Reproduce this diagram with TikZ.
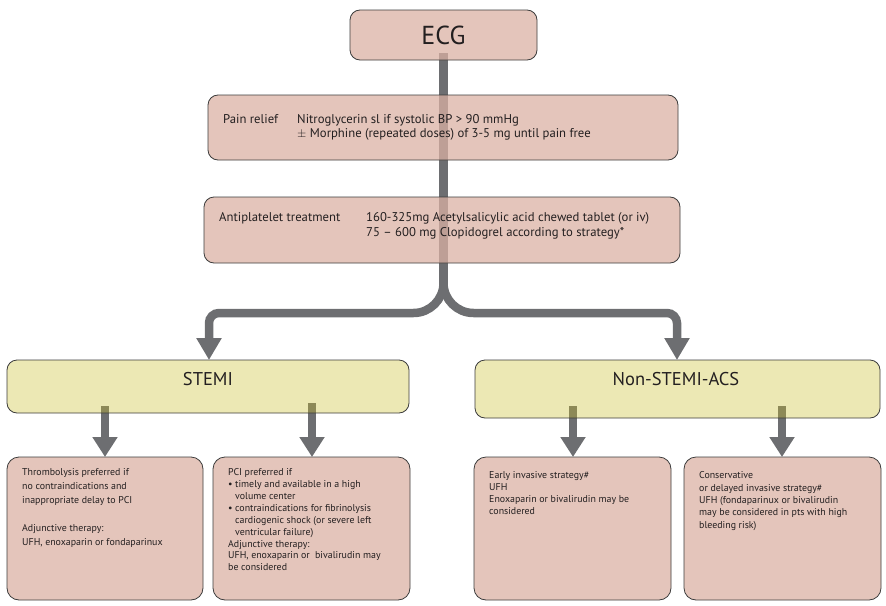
\documentclass[tikz,border=0pt]{standalone}
\usepackage{fontspec}
\setmainfont{PT Sans}
\usetikzlibrary{arrows.meta}
\pgfdeclarelayer{bg}
\pgfsetlayers{bg,main}
\definecolor{pinkfill}{RGB}{219,177,163}
\definecolor{yelfill}{RGB}{201,189,41}
\definecolor{bordc}{RGB}{60,60,60}
\definecolor{linec}{RGB}{109,110,113}
\definecolor{txtc}{RGB}{35,31,32}
\tikzset{
  pinkbox/.style={draw=bordc, line width=0.8pt, fill=pinkfill, fill opacity=0.74, text opacity=1,
    rounded corners=10pt, anchor=north west, inner sep=0pt, outer sep=0pt},
  yelbox/.style={draw=bordc, line width=0.8pt, fill=yelfill, fill opacity=0.35, text opacity=1,
    rounded corners=10pt, anchor=north west, inner sep=0pt, outer sep=0pt},
  conn/.style={draw=linec, line width=8.5pt},
  bigtip/.style={-{Triangle[width=24pt,length=22pt]}},
  smalltip/.style={-{Triangle[width=24pt,length=20pt]}},
  txt/.style={text=txtc, inner sep=0pt, anchor=north west, align=left},
  uptxt/.style={txt, font=\fontsize{12.7}{14.4}\selectfont},
  lowtxt/.style={txt, font=\fontsize{9.9}{12}\selectfont},
}
\begin{document}
\begin{tikzpicture}[x=1pt,y=-1pt]
\useasboundingbox (0,0) rectangle (886,605);

% boxes
\node[pinkbox, minimum width=187pt, minimum height=50pt, text=txtc, font=\fontsize{26}{30}\selectfont] (ecg) at (350,10) {ECG};
\node[pinkbox, minimum width=470pt, minimum height=65pt] (pain) at (208,95) {};
\node[pinkbox, minimum width=476pt, minimum height=66pt] (anti) at (204,197) {};
\node[yelbox, minimum width=402pt, minimum height=53pt] (stemi) at (7,360) {};
\node[yelbox, minimum width=405pt, minimum height=58pt] (nstemi) at (475,360) {};
\node[pinkbox, rounded corners=12pt, minimum width=196pt, minimum height=143pt] (b1) at (7,457) {};
\node[pinkbox, rounded corners=12pt, minimum width=197pt, minimum height=143pt] (b2) at (213,457) {};
\node[pinkbox, rounded corners=12pt, minimum width=197pt, minimum height=143pt] (b3) at (474,457) {};
\node[pinkbox, rounded corners=12pt, minimum width=197pt, minimum height=143pt] (b4) at (684,457) {};

% texts
\node[uptxt] (painA) at (223,114) {Pain relief};
\node[uptxt] (painB) at (297,114) {Nitroglycerin sl if systolic BP > 90 mmHg\\$\pm$ Morphine (repeated doses) of 3-5 mg until pain free};
\node[uptxt] (antiA) at (219,212.5) {Antiplatelet treatment};
\node[uptxt] (antiB) at (366,212.5) {160-325mg Acetylsalicylic acid chewed tablet (or iv)\\75 – 600 mg Clopidogrel according to strategy*};

\node[text=txtc, inner sep=0pt, font=\fontsize{18.5}{22}\selectfont] (stemiT) at (208,379) {STEMI};
\node[text=txtc, inner sep=0pt, font=\fontsize{18.5}{22}\selectfont] (nstemiT) at (676,379) {Non-STEMI-ACS};

\node[lowtxt, font=\fontsize{9.9}{14}\selectfont] (t1) at (22,468.5) {Thrombolysis preferred if\\no contraindications and\\inappropriate delay to PCI\\~\\Adjunctive therapy:\\UFH, enoxaparin or fondaparinux};
\node[lowtxt, font=\fontsize{9.9}{11.9}\selectfont] (t2) at (228,468.4) {PCI preferred if\\\makebox[7pt][l]{•}timely and available in a high\\\hspace*{7pt}volume center\\\makebox[7pt][l]{•}contraindications for fibrinolysis\\\hspace*{7pt}cardiogenic shock (or severe left\\\hspace*{7pt}ventricular failure)\\Adjunctive therapy:\\UFH, enoxaparin or\ \ bivalirudin may\\be considered};
\node[lowtxt, font=\fontsize{9.9}{12}\selectfont] (t3) at (489,471.4) {Early invasive strategy\#\\UFH\\Enoxaparin or bivalirudin may be\\considered};
\node[lowtxt, font=\fontsize{9.9}{12.4}\selectfont] (t4) at (699,471.4) {Conservative\\or delayed invasive strategy\#\\UFH (fondaparinux or bivalirudin\\may be considered in pts with high\\bleeding risk)};

% connectors
\begin{pgfonlayer}{bg}
\coordinate (top) at ([yshift=7pt]ecg.south);
\coordinate (fork) at (443.5,283);
\coordinate (L) at (209,313);
\coordinate (R) at (677,313);
\draw[conn] (top) -- (fork);
\draw[conn, bigtip] (fork) .. controls (443.5,299.5) and (430,313) .. (413.5,313) -- (219,313)
  .. controls (213.5,313) and (209,317.5) .. (209,323) -- (L |- stemi.north);
\draw[conn, bigtip] (fork) .. controls (443.5,299.5) and (457,313) .. (473.5,313) -- (667,313)
  .. controls (672.5,313) and (677,317.5) .. (677,323) -- (R |- nstemi.north);
\coordinate (s1) at (105,406);
\coordinate (s2) at (312,403);
\coordinate (s3) at (573,406);
\coordinate (s4) at (782,406);
\draw[conn, line width=8pt, smalltip] (s1) -- (s1 |- b1.north);
\draw[conn, line width=8pt, smalltip] (s2) -- (s2 |- b2.north);
\draw[conn, line width=8pt, smalltip] (s3) -- (s3 |- b3.north);
\draw[conn, line width=8pt, smalltip] (s4) -- (s4 |- b4.north);
\end{pgfonlayer}
\end{tikzpicture}
\end{document}
